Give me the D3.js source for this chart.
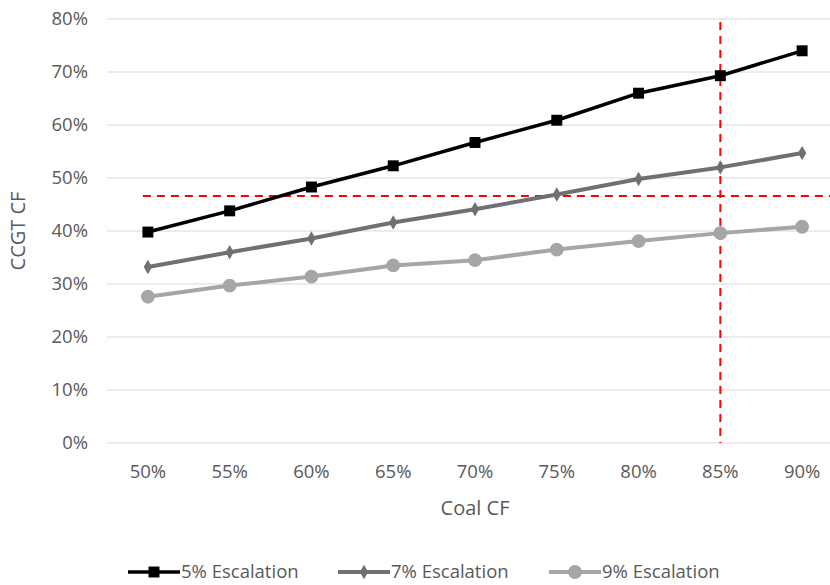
<!DOCTYPE html>
<html>
<head>
<meta charset="utf-8">
<script src="https://cdn.jsdelivr.net/npm/d3@7"></script>
<style>
  body { margin: 0; background: #fff; }
  text { font-family: "Open Sans", "Noto Sans", sans-serif; fill: #595959; }
</style>
</head>
<body>
<svg id="chart" width="830" height="585"></svg>
<script>
// chart data
const coalCF = ["50%", "55%", "60%", "65%", "70%", "75%", "80%", "85%", "90%"];
const esc5 = [0.398, 0.438, 0.483, 0.523, 0.567, 0.609, 0.660, 0.693, 0.740];
const esc7 = [0.332, 0.360, 0.386, 0.416, 0.441, 0.469, 0.498, 0.520, 0.547];
const esc9 = [0.276, 0.297, 0.314, 0.335, 0.345, 0.365, 0.381, 0.396, 0.408];
const seriesNames = ["5% Escalation", "7% Escalation", "9% Escalation"];
const yTicks = [0, 0.1, 0.2, 0.3, 0.4, 0.5, 0.6, 0.7, 0.8];
const refCCGT = 0.466;
const refCoal = "85%";

const svg = d3.select("#chart");

const x = d3.scalePoint()
    .domain(coalCF)
    .range([107, 843])
    .padding(0.5);

const y = d3.scaleLinear()
    .domain([0, 0.8])
    .range([443, 19]);

// gridlines
svg.append("g")
    .selectAll("line")
    .data(yTicks)
    .enter().append("line")
    .attr("x1", 107)
    .attr("x2", 843)
    .attr("y1", d => y(d))
    .attr("y2", d => y(d))
    .style("stroke", "#d9d9d9")
    .style("stroke-width", 1);

// y axis labels
svg.append("g")
    .selectAll("text")
    .data(yTicks)
    .enter().append("text")
    .attr("x", 88)
    .attr("y", d => y(d))
    .attr("dy", "0.35em")
    .attr("text-anchor", "end")
    .style("font-size", "18.5px")
    .text(d => d3.format(".0%")(d));

// x axis labels
svg.append("g")
    .selectAll("text")
    .data(coalCF)
    .enter().append("text")
    .attr("x", d => x(d))
    .attr("y", 472)
    .attr("dy", "0.35em")
    .attr("text-anchor", "middle")
    .style("font-size", "18.5px")
    .text(d => d);

svg.append("text")
    .attr("x", 475)
    .attr("y", 508)
    .attr("dy", "0.35em")
    .attr("text-anchor", "middle")
    .style("font-size", "20px")
    .text("Coal CF");

svg.append("text")
    .attr("transform", "translate(18," + ((y(0) + y(0.8)) / 2) + ") rotate(-90)")
    .attr("dy", "0.35em")
    .attr("text-anchor", "middle")
    .style("font-size", "20px")
    .text("CCGT CF");

// red reference lines
svg.append("line")
    .attr("x1", x(coalCF[0]) - 5)
    .attr("x2", 843)
    .attr("y1", y(refCCGT))
    .attr("y2", y(refCCGT))
    .style("stroke", "#ff0000")
    .style("stroke-width", 2)
    .style("stroke-dasharray", "8,6");

svg.append("line")
    .attr("x1", x(refCoal))
    .attr("x2", x(refCoal))
    .attr("y1", y(0.8) + 3)
    .attr("y2", y(0))
    .style("stroke", "#ff0000")
    .style("stroke-width", 2)
    .style("stroke-dasharray", "8,6");

const series = [
    {name: seriesNames[0], values: esc5, color: "#000000", width: 3.5, symbol: d3.symbolSquare, size: 120},
    {name: seriesNames[1], values: esc7, color: "#707070", width: 4, symbol: d3.symbolDiamond, size: 60},
    {name: seriesNames[2], values: esc9, color: "#a6a6a6", width: 4, symbol: d3.symbolCircle, size: 150}
];

const line = d3.line()
    .x((d, i) => x(coalCF[i]))
    .y(d => y(d));

series.slice().reverse().forEach(function(s) {
    svg.append("path")
        .datum(s.values)
        .attr("d", line)
        .style("fill", "none")
        .style("stroke", s.color)
        .style("stroke-width", s.width)
        .style("stroke-linejoin", "round");

    svg.selectAll(null)
        .data(s.values)
        .enter().append("path")
        .attr("transform", (d, i) => "translate(" + x(coalCF[i]) + "," + y(d) + ")")
        .attr("d", d3.symbol().type(s.symbol).size(s.size))
        .style("fill", s.color);
});

// legend
const legendX = [128, 338, 549];
const legend = svg.append("g");
series.forEach(function(s, i) {
    const g = legend.append("g").attr("transform", "translate(" + legendX[i] + ",572)");
    g.append("line")
        .attr("x1", 0)
        .attr("x2", 52)
        .style("stroke", s.color)
        .style("stroke-width", s.width);
    g.append("path")
        .attr("transform", "translate(26,0)")
        .attr("d", d3.symbol().type(s.symbol).size(s.size))
        .style("fill", s.color);
    g.append("text")
        .attr("x", 53)
        .attr("dy", "0.33em")
        .style("font-size", "18.5px")
        .text(s.name);
});
</script>
</body>
</html>
